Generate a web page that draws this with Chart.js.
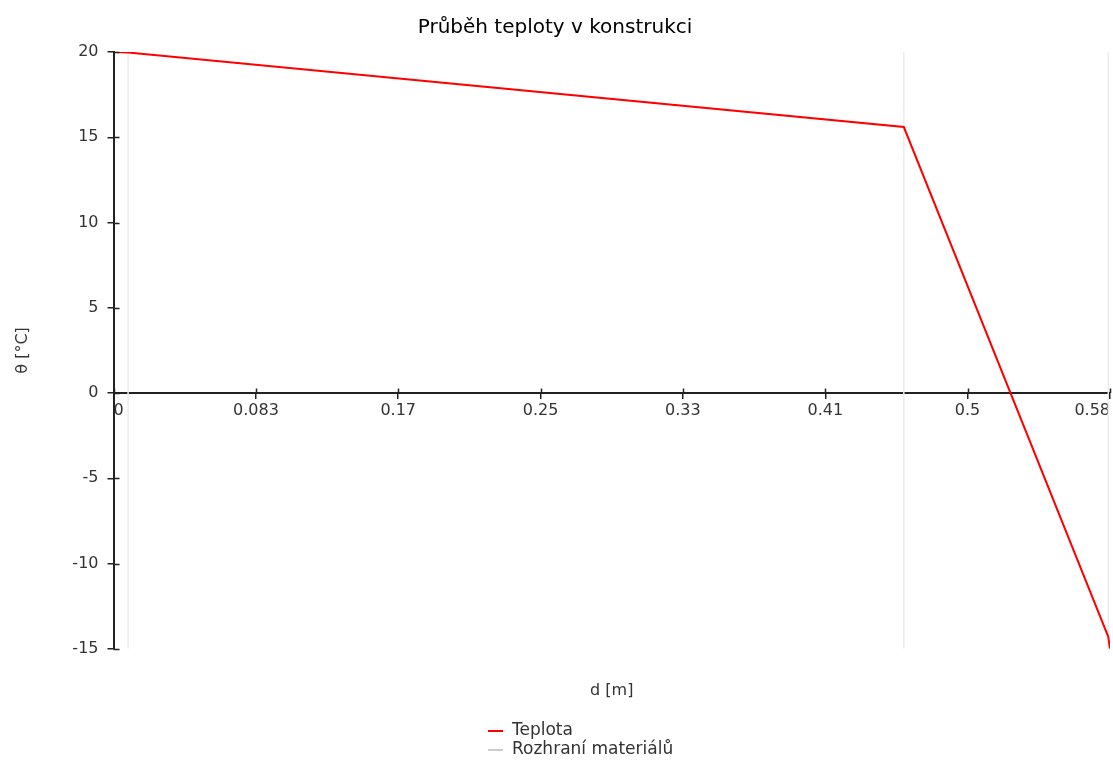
<!DOCTYPE html>
<html>
<head>
<meta charset="utf-8">
<script src="https://cdn.jsdelivr.net/npm/chart.js@4"></script>
<style>
  html, body { margin: 0; padding: 0; background: #fff; }
  #wrap { width: 1113px; height: 761px; }
</style>
</head>
<body>
<div id="wrap"><canvas id="prubeh"></canvas></div>
<script>
// hloubka v konstrukci [m] a teplota [°C]
const hloubka = [0, 0.0085, 0.46, 0.579, 0.58];
const teplota = [20, 19.97, 15.6, -14.3, -15];
// rozhrani materialu [m]
const rozhrani = [0.0085, 0.46, 0.579];
const xTicks = [0, 0.0829, 0.1657, 0.2486, 0.3314, 0.4143, 0.4971, 0.58];
const xTickLabels = ['0', '0.083', '0.17', '0.25', '0.33', '0.41', '0.5', '0.58'];
const yMin = -15, yMax = 20;

const font = '"DejaVu Sans", sans-serif';
Chart.defaults.font.family = font;
Chart.defaults.font.size = 16;
Chart.defaults.color = '#333';

// legenda pod sebou + krizici se znacky na osach
const doplnky = {
  id: 'doplnky',
  afterDraw(chart) {
    const ctx = chart.ctx;
    const x = chart.scales.x, y = chart.scales.y;
    const y0 = y.getPixelForValue(0);
    ctx.save();
    ctx.strokeStyle = '#222';
    ctx.lineWidth = 1.5;
    ctx.beginPath();
    y.ticks.forEach(t => {
      const py = Math.round(y.getPixelForValue(t.value)) + 0.5;
      ctx.moveTo(x.left, py);
      ctx.lineTo(x.left + 6, py);
    });
    x.ticks.forEach(t => {
      const px = Math.round(x.getPixelForValue(t.value)) + 0.5;
      ctx.moveTo(px, y0 - 4.5);
      ctx.lineTo(px, y0);
    });
    ctx.stroke();

    ctx.font = '17px ' + font;
    ctx.textBaseline = 'middle';
    chart.data.datasets.forEach((ds, i) => {
      const ly = 731 + i * 19;
      ctx.strokeStyle = ds.legendColor;
      ctx.lineWidth = ds.legendWidth;
      ctx.beginPath();
      ctx.moveTo(488, ly);
      ctx.lineTo(503, ly);
      ctx.stroke();
      ctx.fillStyle = '#333';
      ctx.fillText(ds.label, 512, ly);
    });
    ctx.restore();
  }
};

new Chart(document.getElementById('prubeh'), {
  type: 'line',
  data: {
    datasets: [
      {
        label: 'Teplota',
        data: hloubka.map((d, i) => ({ x: d, y: teplota[i] })),
        borderColor: 'rgb(255,0,0)',
        borderWidth: 2,
        pointRadius: 0,
        tension: 0,
        order: 0,
        legendColor: 'rgb(255,0,0)',
        legendWidth: 2
      },
      {
        label: 'Rozhraní materiálů',
        data: rozhrani.flatMap(d => [{ x: d, y: yMin }, { x: d, y: yMax }, { x: d, y: null }]),
        borderColor: '#ececec',
        borderWidth: 1.5,
        pointRadius: 0,
        spanGaps: false,
        order: 1,
        legendColor: '#aaa',
        legendWidth: 1.2
      }
    ]
  },
  plugins: [doplnky],
  options: {
    responsive: true,
    maintainAspectRatio: false,
    animation: false,
    layout: {
      padding: { top: 0, right: 3, bottom: 51, left: 0 }
    },
    plugins: {
      legend: { display: false },
      tooltip: { enabled: false },
      title: {
        display: true,
        text: 'Průběh teploty v konstrukci',
        color: '#000',
        font: { size: 20, weight: 'normal' },
        padding: { top: 16, bottom: 12 }
      },
      subtitle: {
        display: true,
        position: 'bottom',
        fullSize: false,
        text: 'd [m]',
        color: '#333',
        font: { size: 16 },
        padding: { top: 32, bottom: 10 }
      }
    },
    scales: {
      x: {
        type: 'linear',
        position: { y: 0 },
        min: 0,
        max: 0.58,
        afterBuildTicks: s => { s.ticks = xTicks.map(v => ({ value: v })); },
        ticks: {
          align: 'inner',
          padding: 3,
          maxRotation: 0,
          autoSkip: false,
          callback: (v, i) => xTickLabels[i]
        },
        grid: { drawOnChartArea: false, tickLength: 5, color: '#222', lineWidth: 1.5 },
        border: { color: '#222', width: 2 }
      },
      y: {
        position: 'left',
        min: yMin,
        max: yMax,
        afterFit: s => { s.width = 113.5; },
        ticks: { stepSize: 5, padding: 9 },
        title: {
          display: true,
          text: 'θ [°C]',
          color: '#333',
          font: { size: 16 },
          padding: { top: 13, bottom: 0 }
        },
        grid: { drawOnChartArea: false, tickLength: 6, color: '#222', lineWidth: 1.5 },
        border: { color: '#222', width: 2 }
      }
    }
  }
});
</script>
</body>
</html>
